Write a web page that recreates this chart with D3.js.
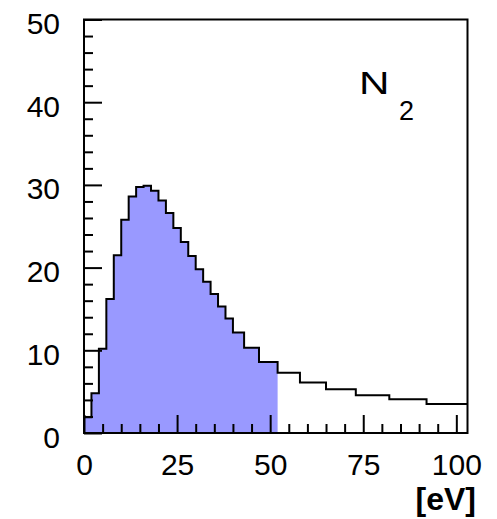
<!DOCTYPE html>
<html>
<head>
<meta charset="utf-8">
<script src="https://cdn.jsdelivr.net/npm/d3@7"></script>
<style>
  html, body { margin: 0; padding: 0; background: #fff; }
  svg { display: block; }
  text { font-family: "Liberation Sans", Arial, Helvetica, sans-serif; fill: #000; }
</style>
</head>
<body>
<svg id="chart" width="497" height="519"></svg>
<script>
// Bin edges (eV) and contents
const binEdges = [0, 2, 4, 6, 8, 10, 12, 14, 16, 18, 20, 22, 24, 26, 28, 30, 32, 34, 36, 38, 40, 43, 47, 52, 58, 65, 73, 82, 92, 103];
const binValues = [1.9, 4.8, 10.2, 16.2, 21.5, 25.8, 28.6, 29.75, 29.9, 29.3, 28.1, 26.6, 24.8, 23.1, 21.4, 19.8, 18.3, 16.8, 15.3, 13.85, 12.15, 10.3, 8.6, 7.28, 6.1, 5.3, 4.55, 4.07, 3.5];
const fillLimit = 52;               // shaded region ends at this edge
const xTicks = [0, 25, 50, 75, 100];
const xMinorTicks = [5, 10, 15, 20, 30, 35, 40, 45, 55, 60, 65, 70, 80, 85, 90, 95];
const yTicks = [0, 10, 20, 30, 40, 50];
const yMinorTicks = [2, 4, 6, 8, 12, 14, 16, 18, 22, 24, 26, 28, 32, 34, 36, 38, 42, 44, 46, 48];
const xLabel = "[eV]";
const gasLabel = "N";
const gasSub = "2";

const svg = d3.select("#chart");
const pL = 84, pR = 467.5, pT = 19.5, pB = 433;

const x = d3.scaleLinear().domain([0, 103]).range([pL, pR]);
const y = d3.scaleLinear().domain([0, 50]).range([pB, pT]);

// points for step curves
const pts = binValues.map((v, i) => [binEdges[i], v]);
pts.push([binEdges[binEdges.length - 1], binValues[binValues.length - 1]]);

const fillPts = [];
binValues.forEach((v, i) => { if (binEdges[i] < fillLimit) fillPts.push([binEdges[i], v]); });
fillPts.push([fillLimit, fillPts[fillPts.length - 1][1]]);

svg.append("path")
  .datum(fillPts)
  .attr("fill", "#9999ff")
  .attr("stroke", "none")
  .attr("d", d3.area().curve(d3.curveStepAfter).x(d => x(d[0])).y0(y(0)).y1(d => y(d[1])));

// minor ticks
svg.append("g").attr("transform", `translate(0,${pB})`)
  .call(d3.axisBottom(x).tickValues(xMinorTicks).tickSizeInner(-9).tickSizeOuter(0).tickFormat(""))
  .call(g => g.select(".domain").remove())
  .call(g => g.selectAll("line").attr("stroke", "#000").attr("stroke-width", 2));
svg.append("g").attr("transform", `translate(${pL},0)`)
  .call(d3.axisLeft(y).tickValues(yMinorTicks).tickSizeInner(-9).tickSizeOuter(0).tickFormat(""))
  .call(g => g.select(".domain").remove())
  .call(g => g.selectAll("line").attr("stroke", "#000").attr("stroke-width", 2));

// major ticks + labels
svg.append("g").attr("transform", `translate(0,${pB})`)
  .call(d3.axisBottom(x).tickValues(xTicks).tickSizeInner(-18).tickSizeOuter(0).tickPadding(21).tickFormat(d3.format("d")))
  .call(g => g.select(".domain").remove())
  .call(g => g.selectAll("line").attr("stroke", "#000").attr("stroke-width", 2))
  .call(g => g.selectAll("text").attr("font-size", 30).attr("font-family", "Liberation Sans, Arial, sans-serif").attr("fill", "#000"));
svg.append("g").attr("transform", `translate(${pL},0)`)
  .call(d3.axisLeft(y).tickValues(yTicks).tickSizeInner(-18).tickSizeOuter(0).tickPadding(24).tickFormat(d3.format("d")))
  .call(g => g.select(".domain").remove())
  .call(g => g.selectAll("line").attr("stroke", "#000").attr("stroke-width", 2))
  .call(g => g.selectAll("text").attr("font-size", 30).attr("dy", 14).attr("font-family", "Liberation Sans, Arial, sans-serif").attr("fill", "#000"));

// histogram outline
svg.append("path")
  .datum(pts)
  .attr("fill", "none")
  .attr("stroke", "#000")
  .attr("stroke-width", 2)
  .attr("d", d3.line().curve(d3.curveStepAfter).x(d => x(d[0])).y(d => y(d[1])));

// frame
svg.append("rect")
  .attr("x", pL).attr("y", pT)
  .attr("width", pR - pL).attr("height", pB - pT)
  .attr("fill", "none").attr("stroke", "#000").attr("stroke-width", 2);

// labels
svg.append("text")
  .attr("x", 476).attr("y", 510)
  .attr("text-anchor", "end")
  .attr("font-size", 32).attr("font-weight", "bold")
  .text(xLabel);

svg.append("g").attr("transform", "translate(359,94) scale(1.36,1)")
  .append("text").attr("x", 0).attr("y", 0).attr("font-size", 31).text(gasLabel);
svg.append("text").attr("x", 399).attr("y", 120).attr("font-size", 27).text(gasSub);
</script>
</body>
</html>
